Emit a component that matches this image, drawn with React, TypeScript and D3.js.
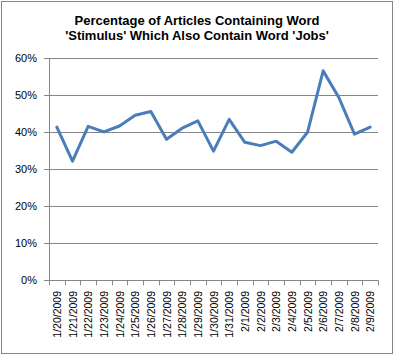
import React from "react";
import * as d3 from "d3";

const categories = [
  "1/20/2009", "1/21/2009", "1/22/2009", "1/23/2009", "1/24/2009", "1/25/2009", "1/26/2009",
  "1/27/2009", "1/28/2009", "1/29/2009", "1/30/2009", "1/31/2009", "2/1/2009", "2/2/2009",
  "2/3/2009", "2/4/2009", "2/5/2009", "2/6/2009", "2/7/2009", "2/8/2009", "2/9/2009",
];
const values = [
  0.414, 0.322, 0.416, 0.401, 0.417, 0.446, 0.456, 0.381, 0.411, 0.431, 0.349,
  0.435, 0.373, 0.364, 0.376, 0.346, 0.400, 0.566, 0.494, 0.395, 0.414,
];
const yTicks = [0, 0.1, 0.2, 0.3, 0.4, 0.5, 0.6];
const titleLines = ["Percentage  of Articles Containing Word", "'Stimulus' Which Also Contain Word 'Jobs'"];

export default function App() {
  const W = 400, H = 356;
  const left = 49, right = 378, top = 58.3, bottom = 280.3;
  const x = d3.scaleBand<string>().domain(categories).range([left, right]);
  const y = d3.scaleLinear().domain([0, 0.6]).range([bottom, top]);
  const line = d3.line<number>()
    .x((_, i) => (x(categories[i]) as number) + x.bandwidth() / 2)
    .y((d) => y(d));
  const font = "Arial, 'Liberation Sans', sans-serif";
  const boundaries = categories.map((c) => x(c) as number).concat([right]);
  return (
    <svg width={W} height={H} style={{ position: "absolute", left: 0, top: 0 }}>
      <rect x={0} y={0} width={W} height={H} fill="#fff" />
      <rect x={1.5} y={1.5} width={391} height={352} fill="none" stroke="#868686" strokeWidth={1} />
      {titleLines.map((t, i) => (
        <text key={i} x={197} y={25 + i * 15} textAnchor="middle" fontFamily={font}
          fontWeight="bold" fontSize={13} fill="#000">{t}</text>
      ))}
      {yTicks.map((t) => (
        <g key={t}>
          <line x1={44} x2={right} y1={Math.round(y(t)) + 0.5} y2={Math.round(y(t)) + 0.5} stroke="#868686" strokeWidth={1} />
          <text x={37} y={y(t) + 4} textAnchor="end" fontFamily={font} fontSize={11} fill="#000">
            {d3.format(".0%")(t)}
          </text>
        </g>
      ))}
      <line x1={left + 0.5} x2={left + 0.5} y1={top} y2={bottom} stroke="#868686" strokeWidth={1} />
      {boundaries.map((b, i) => (
        <line key={i} x1={Math.round(b) + 0.5} x2={Math.round(b) + 0.5} y1={bottom} y2={bottom + 5} stroke="#868686" strokeWidth={1} />
      ))}
      {categories.map((c) => {
        const cx = (x(c) as number) + x.bandwidth() / 2 + 4;
        return (
          <text key={c} transform={`translate(${cx},291) rotate(-90)`} textAnchor="end"
            fontFamily={font} fontSize={10.5} fill="#000">{c}</text>
        );
      })}
      <path d={line(values) || ""} fill="none" stroke="#4a7ebb" strokeWidth={3} strokeLinejoin="round" strokeLinecap="round" />
    </svg>
  );
}
